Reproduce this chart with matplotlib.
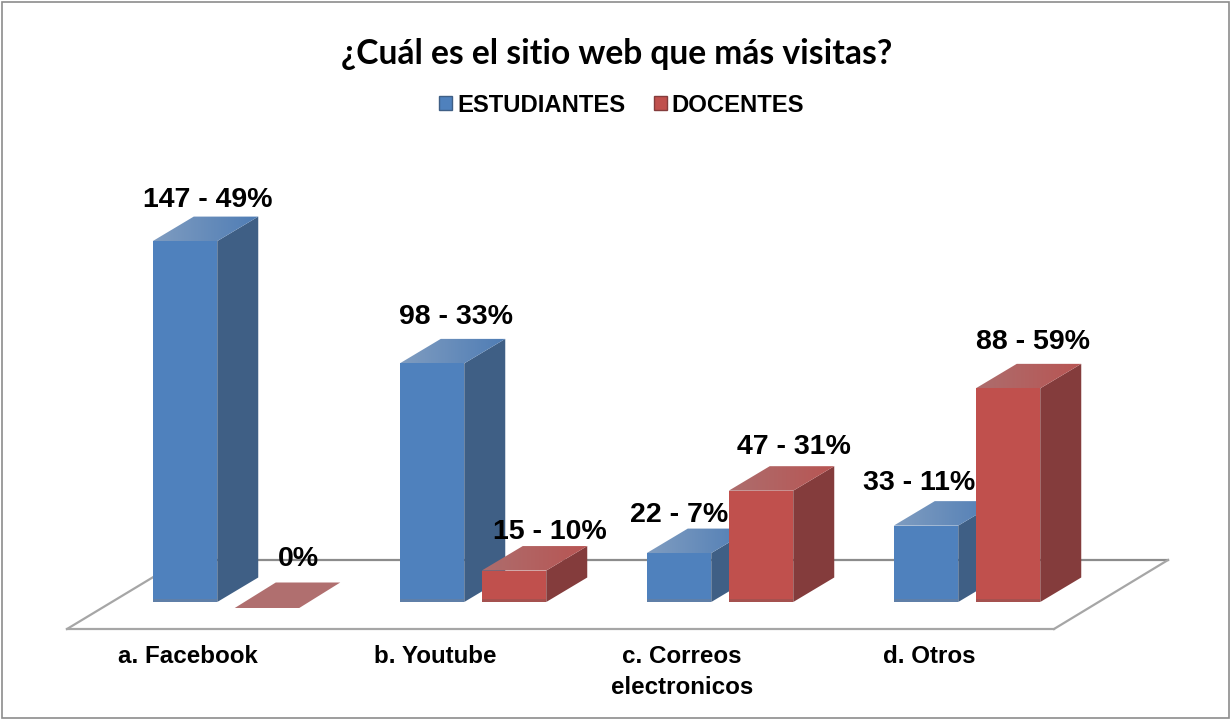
import numpy as np
import matplotlib
matplotlib.use("Agg")
import matplotlib.pyplot as plt
from matplotlib.patches import Patch, Rectangle, Polygon
from matplotlib.colors import LinearSegmentedColormap

# datos
categorias = ["a. Facebook", "b. Youtube", "c. Correos\nelectronicos", "d. Otros"]
estudiantes = [147, 98, 22, 33]
docentes = [0, 15, 47, 88]
pct_estudiantes = [49, 33, 7, 11]
pct_docentes = [0, 10, 31, 59]

W, H = 1230, 719
CAT_PX = 247.0     # pixeles por categoria
VAL_PX = 2.496     # pixeles por unidad
X0_PX = 185.0      # centro de la primera barra
Y0_PX = 608.0      # nivel del cero

fig = plt.figure(figsize=(12.3, 7.19), dpi=100)
ax = fig.add_axes([0, 0, 1, 1])
ax.set_axis_off()


def to_x(px):
    return (px - X0_PX) / CAT_PX


def to_y(py):
    return (Y0_PX - py) / VAL_PX


ancho = 64.5 / CAT_PX
paso = 82.0 / CAT_PX
dx = 41.0 / CAT_PX
dy = 24.5 / VAL_PX
base = to_y(602)

# suelo
gris = "#8c8c8c"
ax.plot([to_x(165), to_x(1168)], [to_y(560), to_y(560)], color=gris, lw=1.6, zorder=1)
ax.plot([to_x(67), to_x(1054)], [to_y(629), to_y(629)], color="#a6a6a6", lw=1.6, zorder=1)
ax.plot([to_x(67), to_x(155)], [to_y(629), to_y(576)], color="#a6a6a6", lw=1.6, zorder=1)
ax.plot([to_x(1054), to_x(1168)], [to_y(629), to_y(560)], color="#a6a6a6", lw=1.6, zorder=1)


def gradiente(x, y, c1, c2, z):
    cm = LinearSegmentedColormap.from_list("g", [c1, c2])
    poly = Polygon(np.column_stack([x, y]), closed=True, transform=ax.transData,
                   facecolor="none", edgecolor="none")
    ax.add_patch(poly)
    im = ax.imshow(np.linspace(0, 1, 64).reshape(1, -1), cmap=cm, aspect="auto",
                   extent=[min(x), max(x), min(y), max(y)], zorder=z)
    im.set_clip_path(poly)


def barra(xc, v, frente, lado, t1, t2, borde, z):
    iz = xc - ancho / 2
    de = xc + ancho / 2
    if v == 0:
        ax.fill([iz, de, de + dx, iz + dx], [0, 0, 25.5 / VAL_PX, 25.5 / VAL_PX],
                color="#b06f6f", lw=0, zorder=z)
        return
    # lado
    ax.fill([de, de + dx, de + dx, de], [base, base + dy, v + dy, v], color=lado, lw=0, zorder=z)
    # arriba
    gradiente([iz, de, de + dx, iz + dx], [v, v, v + dy, v + dy], t1, t2, z)
    # frente
    ax.bar(xc, v - base, ancho, bottom=base, color=frente, lw=0, zorder=z + 0.1)
    ax.bar(xc, 3 / VAL_PX, ancho, bottom=base, color=borde, lw=0, zorder=z + 0.2)


z = 2
for i in range(len(categorias)):
    barra(i, estudiantes[i], "#4f81bd", "#3f5f85", "#7f9cc0", "#4f7db5", "#5f7fa8", z)
    barra(i + paso, docentes[i], "#c0504d", "#843c3c", "#ad6d6d", "#b85553", "#a5514f", z + 1)
    z += 2

# etiquetas de datos
pos_est = [(208, 200), (456, 317), (679, 515), (919, 483)]
pos_doc = [(298, 559), (550, 532), (794, 447), (1033, 342)]
for i in range(len(categorias)):
    ax.text(to_x(pos_est[i][0]), to_y(pos_est[i][1]),
            f"{estudiantes[i]} - {pct_estudiantes[i]}%",
            family="Liberation Sans", weight="bold", fontsize=20.5,
            ha="center", va="center", zorder=20)
    txt = f"{docentes[i]} - {pct_docentes[i]}%" if docentes[i] > 0 else f"{pct_docentes[i]}%"
    ax.text(to_x(pos_doc[i][0]), to_y(pos_doc[i][1]), txt,
            family="Liberation Sans", weight="bold", fontsize=20.5,
            ha="center", va="center", zorder=20)

# categorias
for i, c in enumerate(categorias):
    ax.text(i + 3 / CAT_PX, to_y(645), c, family="Liberation Sans", weight="bold",
            fontsize=17.4, ha="center", va="top", linespacing=1.42, zorder=20)

ax.text(to_x(617), to_y(54), "¿Cuál es el sitio web que más visitas?",
        family="Lato", weight="bold", fontsize=24.2, ha="center", va="center")

ax.set_xlim(to_x(0), to_x(W))
ax.set_ylim(to_y(H), to_y(0))

# leyenda
ax.legend(handles=[Patch(facecolor="#4f81bd", edgecolor="#3f5f85", label="ESTUDIANTES"),
                   Patch(facecolor="#c0504d", edgecolor="#843c3c", label="DOCENTES")],
          ncol=2, frameon=False, loc="center", bbox_to_anchor=(621.75 / W, 1 - 105 / H),
          prop={"family": "Liberation Sans", "weight": "bold", "size": 17.2},
          handlelength=0.55, handleheight=0.55, handletextpad=0.2, columnspacing=1.2)

# marco
fig.add_artist(Rectangle((1.5 / W, 1.5 / H), (W - 3) / W, (H - 3) / H, transform=fig.transFigure,
                         facecolor="none", edgecolor="#8c8c8c", lw=1.2))

fig.savefig("out.png", dpi=100)
